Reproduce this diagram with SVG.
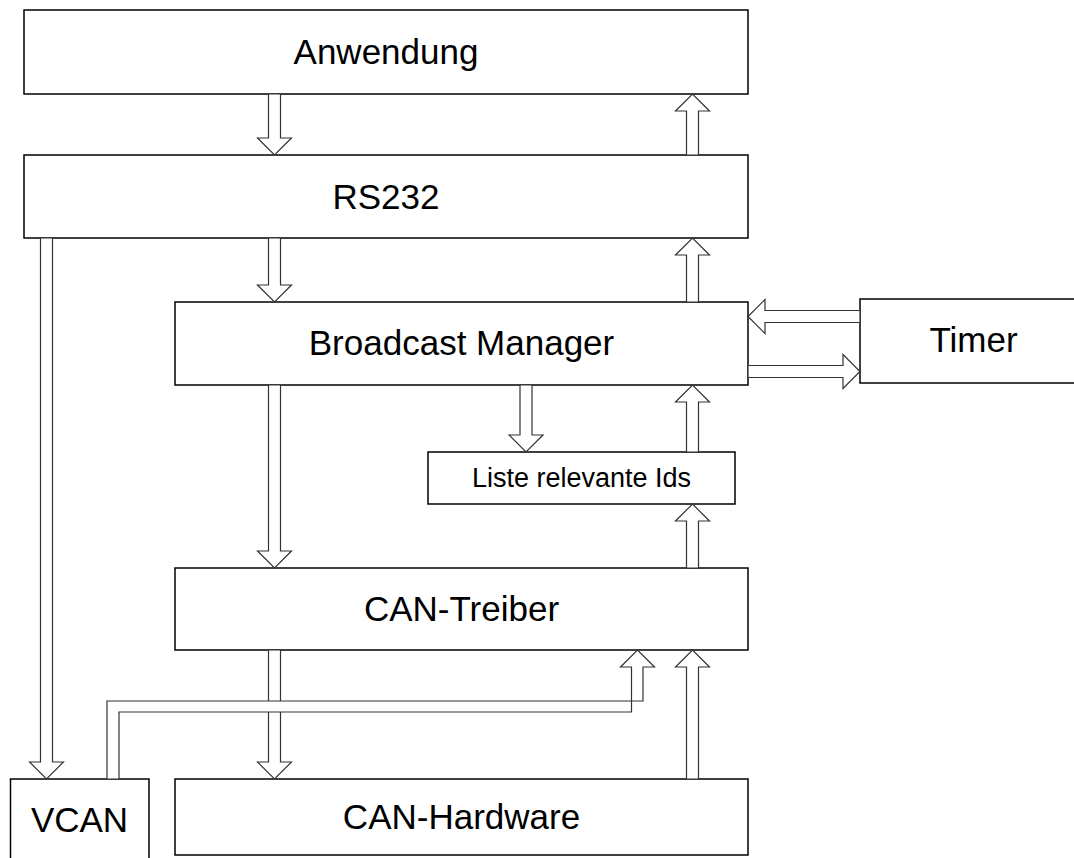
<svg xmlns="http://www.w3.org/2000/svg" width="1074" height="858" viewBox="0 0 1074 858">
  <style>
    .box { fill: #ffffff; stroke: #000000; stroke-width: 1.5; }
    .lbl { font-family: "Liberation Sans", Arial, sans-serif; font-size: 35px; fill: #000000; text-anchor: middle; }
    .small { font-size: 27px; }
    .arr { fill: #ffffff; stroke: #333333; stroke-width: 1.2; stroke-linejoin: miter; }
  </style>
  <rect width="1074" height="858" fill="#ffffff"/>

  <!-- blocks -->
  <g id="anwendung">
    <rect class="box" x="24" y="10" width="724" height="84"/>
    <text class="lbl" x="386" y="64">Anwendung</text>
  </g>
  <g id="rs232">
    <rect class="box" x="24" y="155" width="724" height="83"/>
    <text class="lbl" x="386" y="209">RS232</text>
  </g>
  <g id="broadcast-manager">
    <rect class="box" x="175" y="302" width="573" height="83"/>
    <text class="lbl" x="461.5" y="355">Broadcast Manager</text>
  </g>
  <g id="timer">
    <rect class="box" x="860" y="299" width="227" height="84"/>
    <text class="lbl" x="973.5" y="352">Timer</text>
  </g>
  <g id="liste-ids">
    <rect class="box" x="428" y="452" width="307" height="52"/>
    <text class="lbl small" x="581.5" y="487">Liste relevante Ids</text>
  </g>
  <g id="can-treiber">
    <rect class="box" x="175" y="568" width="573" height="82"/>
    <text class="lbl" x="461.5" y="621">CAN-Treiber</text>
  </g>
  <g id="vcan">
    <rect class="box" x="10.5" y="779" width="138.5" height="90"/>
    <text class="lbl" x="79.5" y="832">VCAN</text>
  </g>
  <g id="can-hardware">
    <rect class="box" x="175" y="779" width="573" height="76"/>
    <text class="lbl" x="461.5" y="829">CAN-Hardware</text>
  </g>

  <!-- block arrows -->
  <g id="connectors">
    <!-- Anwendung <-> RS232 -->
    <polygon class="arr" points="268.5,94 280.5,94 280.5,138 291.5,138 274.5,155 257.5,138 268.5,138"/>
    <polygon class="arr" points="686.5,155 698.5,155 698.5,111 709.5,111 692.5,94 675.5,111 686.5,111"/>
    <!-- RS232 <-> Broadcast Manager -->
    <polygon class="arr" points="268.5,238 280.5,238 280.5,285 291.5,285 274.5,302 257.5,285 268.5,285"/>
    <polygon class="arr" points="686.5,302 698.5,302 698.5,255 709.5,255 692.5,238 675.5,255 686.5,255"/>
    <!-- RS232 -> VCAN -->
    <polygon class="arr" points="40.5,238 52.5,238 52.5,762 63.5,762 46.5,779 29.5,762 40.5,762"/>
    <!-- Timer <-> Broadcast Manager -->
    <polygon class="arr" points="860,310.5 860,322.5 765,322.5 765,333.5 748,316.5 765,299.5 765,310.5"/>
    <polygon class="arr" points="748,365.5 748,377.5 843,377.5 843,388.5 860,371.5 843,354.5 843,365.5"/>
    <!-- Broadcast Manager <-> Liste -->
    <polygon class="arr" points="520,385 532,385 532,435 543,435 526,452 509,435 520,435"/>
    <polygon class="arr" points="686.5,452 698.5,452 698.5,402 709.5,402 692.5,385 675.5,402 686.5,402"/>
    <!-- CAN-Treiber -> Liste -->
    <polygon class="arr" points="686.5,568 698.5,568 698.5,521 709.5,521 692.5,504 675.5,521 686.5,521"/>
    <!-- Broadcast Manager -> CAN-Treiber -->
    <polygon class="arr" points="268.5,385 280.5,385 280.5,551 291.5,551 274.5,568 257.5,551 268.5,551"/>
    <!-- CAN-Treiber -> CAN-Hardware -->
    <polygon class="arr" points="268.5,650 280.5,650 280.5,762 291.5,762 274.5,779 257.5,762 268.5,762"/>
    <!-- CAN-Hardware -> CAN-Treiber -->
    <polygon class="arr" points="686.5,779 698.5,779 698.5,667 709.5,667 692.5,650 675.5,667 686.5,667"/>
    <!-- VCAN -> CAN-Treiber (bent) -->
    <polygon class="arr" points="107,779 107,701 643,701 643,667 654.5,667 637.5,650 620.5,667 631.5,667 631.5,712 119,712 119,779"/>
  </g>
</svg>
